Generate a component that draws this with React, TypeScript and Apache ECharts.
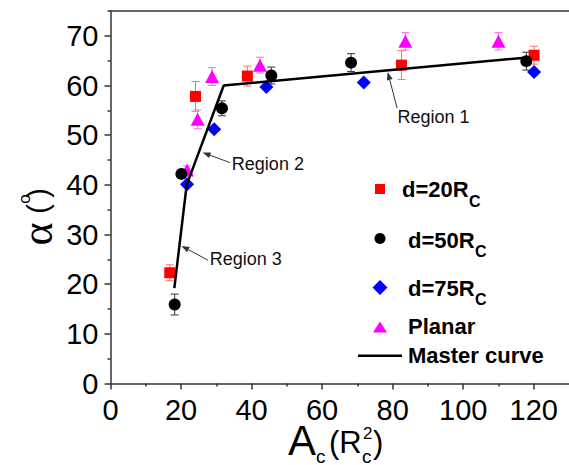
import React, { useEffect, useRef } from "react";
import * as echarts from "echarts";

// ---- data ----
const d20X = [16.8, 24.1, 38.8, 82.5, 120.1];
const d20Y = [22.3, 57.8, 61.9, 64.1, 66.1];
const d20Err = [1.6, 3.0, 2.0, 2.9, 1.8];

const d50X = [18.2, 20.1, 31.6, 45.6, 68.2, 117.9];
const d50Y = [15.9, 42.2, 55.4, 62.0, 64.6, 64.9];
const d50Err = [2.1, 0.6, 1.5, 1.7, 1.8, 1.8];

const d75X = [21.7, 29.4, 44.2, 71.8, 120.1];
const d75Y = [40.1, 51.2, 59.7, 60.6, 62.7];

const planarX = [21.7, 24.7, 28.8, 42.4, 83.6, 110.0];
const planarY = [43.0, 53.2, 61.8, 64.1, 68.9, 68.9];
const planarErr = [0.8, 1.9, 1.8, 1.6, 1.75, 1.75];

const masterX = [18.1, 21.6, 32.1, 117.5];
const masterY = [19.2, 40.0, 60.0, 65.6];

const xMajorTicks = [0, 20, 40, 60, 80, 100, 120];
const xMinorTicks = [10, 30, 50, 70, 90, 110];
const yMajorTicks = [0, 10, 20, 30, 40, 50, 60, 70];
const yMinorTicks = [5, 15, 25, 35, 45, 55, 65, 75];

const regionLabels = ["Region 1", "Region 2", "Region 3"];
const regionTipX = [78.6, 26.1, 20.1];
const regionTipY = [62.7, 46.5, 27.7];

const FONT = "'Liberation Sans', Arial, sans-serif";
const AXIS_COLOR = "#333";

function errSeries(xs: number[], ys: number[], errs: number[], color: string) {
  return {
    type: "custom",
    silent: true,
    z: 1,
    data: xs.map((x, i) => [x, ys[i], errs[i]]),
    encode: { x: 0, y: 1 },
    renderItem: (params: any, api: any) => {
      const x = api.value(0);
      const y = api.value(1);
      const e = api.value(2);
      const top = api.coord([x, y + e]);
      const bot = api.coord([x, y - e]);
      const hw = 4;
      const st = { stroke: color, lineWidth: 1 };
      return {
        type: "group",
        children: [
          { type: "line", shape: { x1: top[0], y1: top[1], x2: bot[0], y2: bot[1] }, style: st },
          { type: "line", shape: { x1: top[0] - hw, y1: top[1], x2: top[0] + hw, y2: top[1] }, style: st },
          { type: "line", shape: { x1: bot[0] - hw, y1: bot[1], x2: bot[0] + hw, y2: bot[1] }, style: st },
        ],
      };
    },
  };
}

function txt(text: string, x: number, y: number, size: number, opts: any = {}) {
  return {
    type: "text",
    x,
    y,
    rotation: opts.rotation || 0,
    silent: true,
    style: {
      text,
      fontSize: size,
      fontFamily: opts.family || FONT,
      fontWeight: opts.bold ? "bold" : "normal",
      fill: opts.color || "#000",
      align: opts.align || "left",
      verticalAlign: "middle",
    },
  };
}

export default function App() {
  const ref = useRef<HTMLDivElement>(null);
  useEffect(() => {
    if (!ref.current) return;
    const chart = echarts.init(ref.current, null, { renderer: "svg" });
    const axisLine = { show: true, onZero: false, lineStyle: { color: AXIS_COLOR, width: 1.5 } };
    const option: any = {
      animation: false,
      backgroundColor: "#fff",
      grid: { left: 110.5, right: -1, top: 11, bottom: 81.5, containLabel: false },
      xAxis: [
        {
          type: "value", min: 0, max: 130, position: "bottom",
          axisLine,
          axisTick: { show: true, customValues: xMajorTicks, length: 6, lineStyle: { color: AXIS_COLOR, width: 1.5 } },
          axisLabel: { customValues: xMajorTicks, fontSize: 29, fontFamily: FONT, color: "#000", margin: 12 },
          splitLine: { show: false },
        },
        {
          type: "value", min: 0, max: 130, position: "bottom",
          axisLine: { show: false, onZero: false },
          axisTick: { show: true, customValues: xMinorTicks, length: 3, lineStyle: { color: AXIS_COLOR, width: 1.5 } },
          axisLabel: { show: false },
          splitLine: { show: false },
        },
        {
          type: "value", min: 0, max: 130, position: "top",
          axisLine,
          axisTick: { show: false },
          axisLabel: { show: false },
          splitLine: { show: false },
        },
      ],
      yAxis: [
        {
          type: "value", min: 0, max: 75, position: "left",
          axisLine,
          axisTick: { show: true, customValues: yMajorTicks, length: 6, lineStyle: { color: AXIS_COLOR, width: 1.5 } },
          axisLabel: { customValues: yMajorTicks, fontSize: 29, fontFamily: FONT, color: "#000", margin: 12 },
          splitLine: { show: false },
        },
        {
          type: "value", min: 0, max: 75, position: "left",
          axisLine: { show: false, onZero: false },
          axisTick: { show: true, customValues: yMinorTicks, length: 3, lineStyle: { color: AXIS_COLOR, width: 1.5 } },
          axisLabel: { show: false },
          splitLine: { show: false },
        },
      ],
      series: [
        errSeries(d20X, d20Y, d20Err, "#ff7070"),
        errSeries(d50X, d50Y, d50Err, "#333333"),
        errSeries(planarX, planarY, planarErr, "#ff66ff"),
        {
          name: "d=20Rc", type: "scatter", symbol: "rect", symbolSize: 11, z: 3,
          itemStyle: { color: "#ff0000", opacity: 1 },
          data: d20X.map((x, i) => [x, d20Y[i]]),
        },
        {
          name: "Planar", type: "scatter", symbol: "triangle", symbolSize: [14, 13], z: 3,
          itemStyle: { color: "#ff00ff", opacity: 1 },
          data: planarX.map((x, i) => [x, planarY[i]]),
        },
        {
          name: "d=50Rc", type: "scatter", symbol: "circle", symbolSize: 12, z: 3,
          itemStyle: { color: "#000000", opacity: 1 },
          data: d50X.map((x, i) => [x, d50Y[i]]),
        },
        {
          name: "d=75Rc", type: "scatter", symbol: "diamond", symbolSize: 14, z: 3,
          itemStyle: { color: "#0000ff", opacity: 1 },
          data: d75X.map((x, i) => [x, d75Y[i]]),
        },
        {
          name: "Master curve", type: "line", symbol: "none", z: 4,
          lineStyle: { color: "#000", width: 2.5 },
          data: masterX.map((x, i) => [x, masterY[i]]),
        },
      ],
    };
    chart.setOption(option);

    // annotations anchored to data coordinates
    const tailOff = [[9.4, 36], [27.3, 10], [26.6, 14.3]];
    const textOff = [[9.7, 45], [29.3, 11.3], [28.3, 12.6]];
    const graphics: any[] = [];
    regionLabels.forEach((label, i) => {
      const tip = chart.convertToPixel({ xAxisIndex: 0, yAxisIndex: 0 }, [regionTipX[i], regionTipY[i]]) as number[];
      const tail = [tip[0] + tailOff[i][0], tip[1] + tailOff[i][1]];
      const dx = tip[0] - tail[0];
      const dy = tip[1] - tail[1];
      const len = Math.sqrt(dx * dx + dy * dy);
      const ux = dx / len, uy = dy / len;
      const nx = -uy, ny = ux;
      const base = [tip[0] - ux * 8, tip[1] - uy * 8];
      graphics.push({
        type: "line", silent: true,
        shape: { x1: tail[0], y1: tail[1], x2: base[0], y2: base[1] },
        style: { stroke: "#333", lineWidth: 1 },
      });
      graphics.push({
        type: "polygon", silent: true,
        shape: { points: [tip, [base[0] + nx * 3, base[1] + ny * 3], [base[0] - nx * 3, base[1] - ny * 3]] },
        style: { fill: "#333" },
      });
      graphics.push(txt(label, tip[0] + textOff[i][0], tip[1] + textOff[i][1], 18, { color: "#111" }));
    });

    // legend
    graphics.push({ type: "rect", silent: true, shape: { x: 375, y: 184, width: 10, height: 10 }, style: { fill: "#ff0000" } });
    graphics.push({ type: "circle", silent: true, shape: { cx: 380, cy: 238.5, r: 5.5 }, style: { fill: "#000" } });
    graphics.push({ type: "polygon", silent: true, shape: { points: [[380, 280], [387.5, 287.5], [380, 295], [372.5, 287.5]] }, style: { fill: "#0000ff" } });
    graphics.push({ type: "polygon", silent: true, shape: { points: [[380, 321.5], [387, 332.5], [373, 332.5]] }, style: { fill: "#ff00ff" } });
    graphics.push({ type: "line", silent: true, shape: { x1: 358, y1: 355.7, x2: 402, y2: 355.7 }, style: { stroke: "#000", lineWidth: 2.5 } });
    graphics.push(txt("d=20R", 402, 189, 22, { bold: true }));
    graphics.push(txt("C", 469, 201, 16, { bold: true }));
    graphics.push(txt("d=50R", 408, 240, 22, { bold: true }));
    graphics.push(txt("C", 475, 251, 16, { bold: true }));
    graphics.push(txt("d=75R", 408, 288, 22, { bold: true }));
    graphics.push(txt("C", 475, 299, 16, { bold: true }));
    graphics.push(txt("Planar", 408, 326.5, 22, { bold: true }));
    graphics.push(txt("Master curve", 408, 355.5, 22, { bold: true }));

    // x-axis name: A_c(R_c^2)
    graphics.push(txt("A", 288, 440, 42));
    graphics.push(txt("c", 316, 456, 19));
    graphics.push(txt("(R", 329, 442, 31));
    graphics.push(txt("c", 362, 456, 19));
    graphics.push(txt("2", 363, 433, 17));
    graphics.push(txt(")", 373, 442, 31));

    // y-axis name: α(°)
    graphics.push(txt("α", 37, 234, 44, { rotation: Math.PI / 2, align: "center", family: "'Liberation Serif', 'DejaVu Serif', serif" }));
    graphics.push(txt("(", 38, 209, 29, { rotation: Math.PI / 2, align: "center" }));
    graphics.push(txt("o", 24, 199, 17, { rotation: Math.PI / 2, align: "center" }));
    graphics.push(txt(")", 38, 193, 29, { rotation: Math.PI / 2, align: "center" }));

    chart.setOption({ graphic: { elements: graphics } });

    return () => chart.dispose();
  }, []);
  return <div ref={ref} style={{ position: "fixed", left: 0, top: 0, width: 569, height: 465 }} />;
}
